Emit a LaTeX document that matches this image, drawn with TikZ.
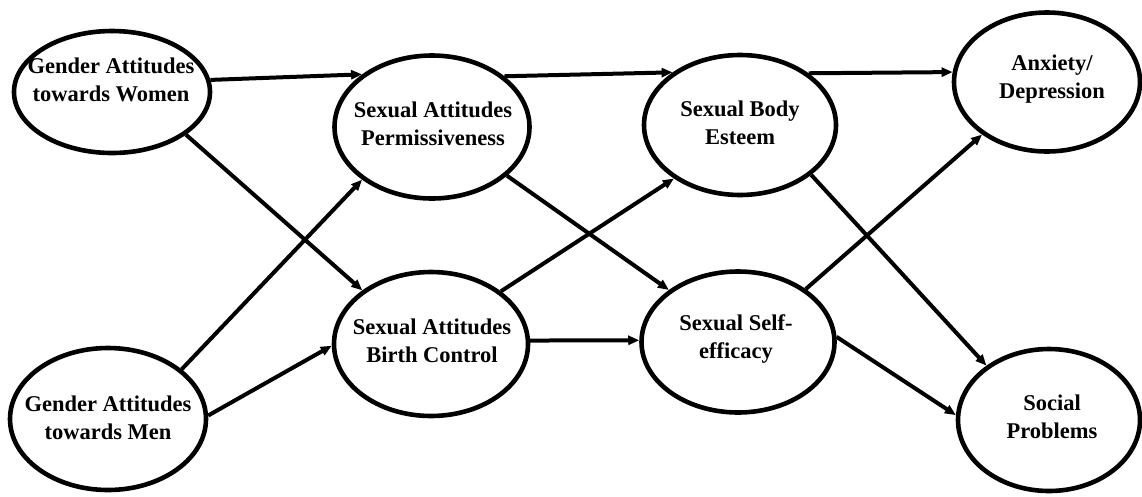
\documentclass[tikz,border=0pt]{standalone}
\usepackage{fontspec}
\setmainfont{Liberation Serif}
\usetikzlibrary{arrows.meta,shapes.geometric}
\begin{document}
\begin{tikzpicture}[x=1pt,y=-1pt,
  oval/.style={ellipse,draw,line width=4.6pt,inner sep=0pt,fill=white},
  lbl/.style={align=center,inner sep=0pt,
    font=\fontsize{22.5}{28}\selectfont\bfseries},
  link/.style={line width=4pt,-{Triangle[length=11pt,width=9pt]}}]

\useasboundingbox[fill=white] (0,0) rectangle (1142,496);

% latent constructs
\node[oval,minimum width=196pt,minimum height=122pt] (gaw)  at (112,92)  {};
\node[oval,minimum width=196pt,minimum height=142pt] (gam)  at (108,419) {};
\node[oval,minimum width=195pt,minimum height=143pt] (sap)  at (432,127) {};
\node[oval,minimum width=194pt,minimum height=144pt] (sabc) at (431,344) {};
\node[oval,minimum width=192pt,minimum height=140pt] (sbe)  at (740,125) {};
\node[oval,minimum width=193pt,minimum height=141pt] (sse)  at (738,342) {};
\node[oval,minimum width=186pt,minimum height=139pt] (ad)   at (1047,82) {};
\node[oval,minimum width=182pt,minimum height=142pt] (sp)   at (1049,420) {};

% labels
\node[lbl] (gaw-t)  at (111,80)  {Gender Attitudes\\towards Women};
\node[lbl] (gam-t)  at (108,418) {Gender Attitudes\\towards Men};
\node[lbl] (sap-t)  at (433,124) {Sexual Attitudes\\Permissiveness};
\node[lbl] (sabc-t) at (432,341) {Sexual Attitudes\\Birth Control};
\node[lbl] (sbe-t)  at (740,123) {Sexual Body\\Esteem};
\node[lbl] (sse-t)  at (736,339) {Sexual Self-\\efficacy};
\node[lbl] (ad-t)   at (1052,79) {Anxiety/\\Depression};
\node[lbl] (sp-t)   at (1052,417) {Social\\Problems};

% paths
\draw[link] (gaw.7)    -- (sap.143);
\draw[link] (gaw.-30)  -- (sabc.142);
\draw[link] (gam.34)   -- (sap.-143);
\draw[link] (gam.2)    -- (sabc.181);
\draw[link] (sap.35)   -- (sbe.142);
\draw[link] (sap.-33)  -- (sse.143);
\draw[link] (sabc.37)  -- (sbe.-141);
\draw[link] (sabc.2)   -- (sse.179);
\draw[link] (sbe.37)   -- (ad.174);
\draw[link] (sbe.-35)  -- (sp.139);
\draw[link] (sse.38)   -- (ad.-141);
\draw[link] (sse.3)    -- (sp.177);
\end{tikzpicture}
\end{document}
